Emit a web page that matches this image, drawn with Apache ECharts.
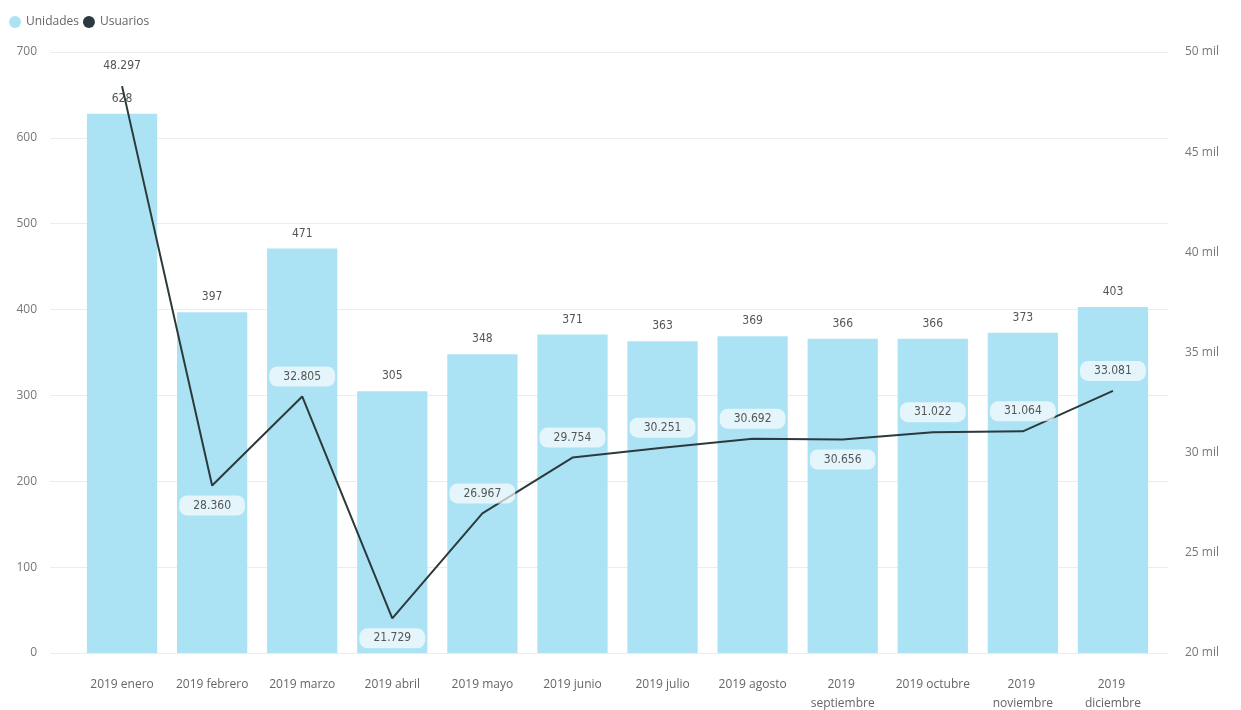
<!DOCTYPE html>
<html>
<head>
<meta charset="utf-8">
<script src="https://cdn.jsdelivr.net/npm/echarts@6/dist/echarts.min.js"></script>
<style>
  html, body { margin: 0; padding: 0; background: #fff; }
  #chart { width: 1241px; height: 710px; }
</style>
</head>
<body>
<div id="chart"></div>
<script>
// Monthly units (bars, left axis) and users (line, right axis), 2019
const months = ['2019 enero', '2019 febrero', '2019 marzo', '2019 abril', '2019 mayo', '2019 junio',
  '2019 julio', '2019 agosto', '2019 septiembre', '2019 octubre', '2019 noviembre', '2019 diciembre'];
const unidades = [628, 397, 471, 305, 348, 371, 363, 369, 366, 366, 373, 403];
const usuarios = [48297, 28360, 32805, 21729, 26967, 29754, 30251, 30692, 30656, 31022, 31064, 33081];
const leftTicks = [0, 700, 100];
const rightTicks = [20000, 50000, 5000];
// months whose user label sits under the line point
const labelBelow = [1, 3, 8];

const fmtThousands = v => String(v).replace(/\B(?=(\d{3})+(?!\d))/g, '.');

const axisFont = { fontFamily: 'Open Sans', fontSize: 12, color: '#666' };
const valueFont = { fontFamily: '"DejaVu Sans Condensed", Roboto, sans-serif', fontSize: 12, color: '#555' };

const chart = echarts.init(document.getElementById('chart'));
chart.setOption({
  animation: false,
  legend: {
    left: 4, top: 11,
    itemWidth: 12, itemHeight: 12, itemGap: 4,
    icon: 'circle',
    textStyle: { fontFamily: 'Open Sans', fontSize: 12, color: '#666' },
    data: ['Unidades', 'Usuarios']
  },
  grid: [
    { left: 77, right: 83, top: 52, bottom: 57, outerBoundsMode: 'none' },
    { left: 50, right: 73, top: 52, bottom: 57, outerBoundsMode: 'none' }
  ],
  xAxis: [
    {
      type: 'category', data: months, gridIndex: 0,
      axisLine: { show: false }, axisTick: { show: false },
      axisLabel: { ...axisFont, margin: 22, width: 86, overflow: 'break', interval: 0, lineHeight: 19 }
    },
    { type: 'value', gridIndex: 1, show: false, min: 0, max: 1 }
  ],
  yAxis: [
    {
      type: 'value', gridIndex: 0, min: leftTicks[0], max: leftTicks[1], interval: leftTicks[2],
      axisLine: { show: false }, axisTick: { show: false }, splitLine: { show: false },
      axisLabel: { ...axisFont, color: '#777', margin: 40 }
    },
    {
      type: 'value', gridIndex: 0, position: 'right', min: rightTicks[0], max: rightTicks[1], interval: rightTicks[2],
      axisLine: { show: false }, axisTick: { show: false }, splitLine: { show: false },
      axisLabel: { ...axisFont, color: '#777', margin: 27, formatter: v => (v / 1000) + ' mil' }
    },
    {
      // background gridlines spanning the full width
      type: 'value', gridIndex: 1, min: leftTicks[0], max: leftTicks[1], interval: leftTicks[2],
      axisLine: { show: false }, axisTick: { show: false }, axisLabel: { show: false },
      splitLine: { lineStyle: { color: '#ececec', width: 1 } }
    }
  ],
  series: [
    {
      name: 'Unidades', type: 'bar', xAxisIndex: 0, yAxisIndex: 0,
      data: unidades, barCategoryGap: '22%',
      itemStyle: { color: '#abe3f4' },
      label: { show: true, position: 'top', distance: 9, ...valueFont }
    },
    {
      name: 'Usuarios', type: 'line', xAxisIndex: 0, yAxisIndex: 1,
      data: usuarios.map((v, i) => labelBelow.includes(i)
        ? { value: v, label: { position: 'bottom' } } : v),
      symbol: 'circle', symbolSize: 0, showSymbol: true, z: 5,
      itemStyle: { color: '#2c3a3e' },
      lineStyle: { color: '#2c3a3e', width: 2 },
      label: {
        show: true, position: 'top', distance: 10, ...valueFont,
        formatter: p => fmtThousands(p.value),
        backgroundColor: 'rgba(255,255,255,0.68)', borderRadius: 8, padding: [4, 14]
      }
    }
  ]
});
</script>
</body>
</html>
